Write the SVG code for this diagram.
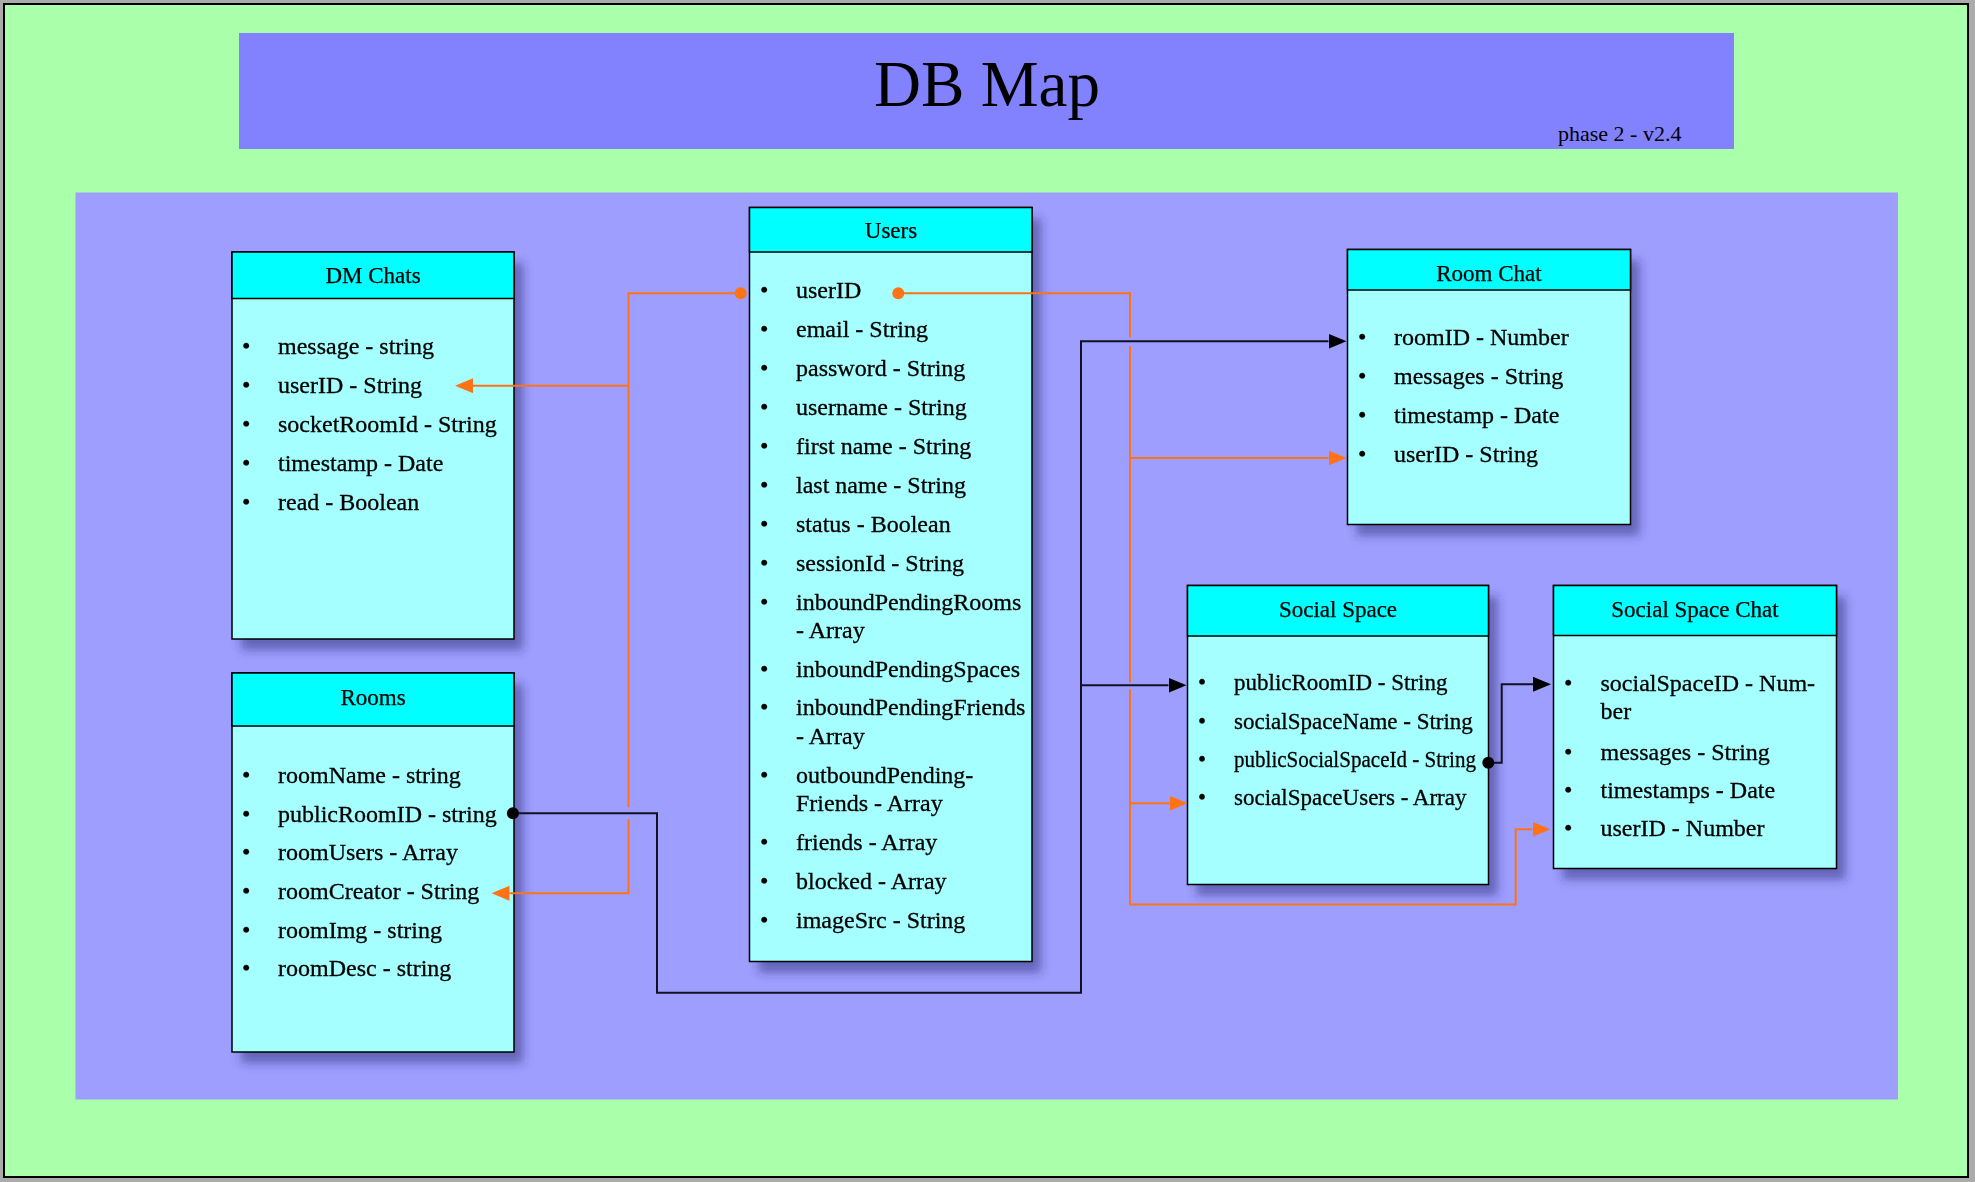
<svg xmlns="http://www.w3.org/2000/svg" width="1975" height="1182" viewBox="0 0 1975 1182">
<defs>
<style>
text{font-family:'Liberation Serif','Times New Roman',serif;fill:#000}
.frame{fill:#AAFFAA;stroke:#000;stroke-width:2}
.banner{fill:#8282FF}
.panel{fill:#9E9EFF}
.shadow{fill:#2a2a70;opacity:0.5}
.body{fill:#A6FFFF;stroke:#000;stroke-width:1.5}
.head{fill:#00FFFF;stroke:#000;stroke-width:1.5}
.or{fill:none;stroke:#FF7216;stroke-width:2}
.bk{fill:none;stroke:#111122;stroke-width:2}
.t{font-size:23px;text-anchor:middle;stroke:#000;stroke-width:0.25}
.i{font-size:24px;stroke:#000;stroke-width:0.3}
.j{font-size:23px;stroke:#000;stroke-width:0.3}
</style>
<filter id="blur" x="-10%" y="-10%" width="130%" height="130%">
<feGaussianBlur stdDeviation="5"/>
</filter>
<marker id="ao" markerUnits="userSpaceOnUse" markerWidth="20" markerHeight="16" refX="0" refY="7.5" orient="auto">
<path d="M0,0 L18,7.5 L0,15 z" fill="#FF7216"/>
</marker>
<marker id="ab" markerUnits="userSpaceOnUse" markerWidth="20" markerHeight="16" refX="0" refY="7.5" orient="auto">
<path d="M0,0 L18,7.5 L0,15 z" fill="#000"/>
</marker>
</defs>

<rect x="0" y="0" width="1975" height="1182" fill="#ABABAB"/>
<rect class="frame" x="4" y="4" width="1964" height="1173"/>
<rect class="banner" x="239" y="33" width="1495" height="116"/>
<text x="987" y="106" font-family="Liberation Serif, serif" font-size="66" text-anchor="middle" textLength="226" lengthAdjust="spacingAndGlyphs">DB Map</text>
<text x="1558" y="141" font-family="Liberation Serif, serif" font-size="22">phase 2 - v2.4</text>
<rect class="panel" x="75.5" y="192.5" width="1822.5" height="907"/>

<g id="shadows" filter="url(#blur)">
<rect class="shadow" x="241" y="263" width="282" height="387"/>
<rect class="shadow" x="241" y="684" width="282" height="379"/>
<rect class="shadow" x="758.5" y="218.5" width="282.5" height="754"/>
<rect class="shadow" x="1356.5" y="260.5" width="283" height="275"/>
<rect class="shadow" x="1196.5" y="596.5" width="301" height="299"/>
<rect class="shadow" x="1562.5" y="596.5" width="283" height="283"/>
</g>

<g id="dm-chats">
<rect class="body" x="232" y="252" width="282" height="387"/>
<rect class="head" x="232" y="252" width="282" height="46.5"/>
<text class="t" x="373" y="283">DM Chats</text>
<text class="i" x="242" y="354">•</text><text class="i" x="278" y="354">message - string</text>
<text class="i" x="242" y="393">•</text><text class="i" x="278" y="393">userID - String</text>
<text class="i" x="242" y="432">•</text><text class="i" x="278" y="432">socketRoomId - String</text>
<text class="i" x="242" y="471">•</text><text class="i" x="278" y="471">timestamp - Date</text>
<text class="i" x="242" y="510">•</text><text class="i" x="278" y="510">read - Boolean</text>
</g>

<g id="rooms">
<rect class="body" x="232" y="673" width="282" height="379"/>
<rect class="head" x="232" y="673" width="282" height="53"/>
<text class="t" x="373" y="705">Rooms</text>
<text class="i" x="242" y="783">•</text><text class="i" x="278" y="783">roomName - string</text>
<text class="i" x="242" y="822">•</text><text class="i" x="278" y="822">publicRoomID - string</text>
<text class="i" x="242" y="860">•</text><text class="i" x="278" y="860">roomUsers - Array</text>
<text class="i" x="242" y="899">•</text><text class="i" x="278" y="899">roomCreator - String</text>
<text class="i" x="242" y="938">•</text><text class="i" x="278" y="938">roomImg - string</text>
<text class="i" x="242" y="976">•</text><text class="i" x="278" y="976">roomDesc - string</text>
</g>

<g id="users">
<rect class="body" x="749.5" y="207.5" width="282.5" height="754"/>
<rect class="head" x="749.5" y="207.5" width="282.5" height="44.5"/>
<text class="t" x="891" y="238">Users</text>
<text class="i" x="760" y="298">•</text><text class="i" x="796" y="298">userID</text>
<text class="i" x="760" y="337">•</text><text class="i" x="796" y="337">email - String</text>
<text class="i" x="760" y="376">•</text><text class="i" x="796" y="376">password - String</text>
<text class="i" x="760" y="415">•</text><text class="i" x="796" y="415">username - String</text>
<text class="i" x="760" y="454">•</text><text class="i" x="796" y="454">first name - String</text>
<text class="i" x="760" y="493">•</text><text class="i" x="796" y="493">last name - String</text>
<text class="i" x="760" y="532">•</text><text class="i" x="796" y="532">status - Boolean</text>
<text class="i" x="760" y="571">•</text><text class="i" x="796" y="571">sessionId - String</text>
<text class="i" x="760" y="610">•</text><text class="i" x="796" y="610">inboundPendingRooms</text>
<text class="i" x="796" y="637.5">- Array</text>
<text class="i" x="760" y="677">•</text><text class="i" x="796" y="677">inboundPendingSpaces</text>
<text class="i" x="760" y="715">•</text><text class="i" x="796" y="715">inboundPendingFriends</text>
<text class="i" x="796" y="744">- Array</text>
<text class="i" x="760" y="783">•</text><text class="i" x="796" y="783">outboundPending-</text>
<text class="i" x="796" y="811">Friends - Array</text>
<text class="i" x="760" y="850">•</text><text class="i" x="796" y="850">friends - Array</text>
<text class="i" x="760" y="889">•</text><text class="i" x="796" y="889">blocked - Array</text>
<text class="i" x="760" y="928">•</text><text class="i" x="796" y="928">imageSrc - String</text>
</g>

<g id="room-chat">
<rect class="body" x="1347.5" y="249.5" width="283" height="275"/>
<rect class="head" x="1347.5" y="249.5" width="283" height="40.5"/>
<text class="t" x="1489" y="281">Room Chat</text>
<text class="i" x="1358" y="345">•</text><text class="i" x="1394" y="345">roomID - Number</text>
<text class="i" x="1358" y="384">•</text><text class="i" x="1394" y="384">messages - String</text>
<text class="i" x="1358" y="423">•</text><text class="i" x="1394" y="423">timestamp - Date</text>
<text class="i" x="1358" y="462">•</text><text class="i" x="1394" y="462">userID - String</text>
</g>

<g id="social-space">
<rect class="body" x="1187.5" y="585.5" width="301" height="299"/>
<rect class="head" x="1187.5" y="585.5" width="301" height="50.5"/>
<text class="t" x="1338" y="617">Social Space</text>
<text class="j" x="1198" y="690">•</text><text class="j" x="1234" y="690">publicRoomID - String</text>
<text class="j" x="1198" y="728.5">•</text><text class="j" x="1234" y="728.5">socialSpaceName - String</text>
<text class="j" x="1198" y="767">•</text><text class="i" x="1234" y="767" textLength="242" lengthAdjust="spacingAndGlyphs">publicSocialSpaceId - String</text>
<text class="j" x="1198" y="805">•</text><text class="j" x="1234" y="805">socialSpaceUsers - Array</text>
</g>

<g id="social-space-chat">
<rect class="body" x="1553.5" y="585.5" width="283" height="283"/>
<rect class="head" x="1553.5" y="585.5" width="283" height="50"/>
<text class="t" x="1695" y="617">Social Space Chat</text>
<text class="i" x="1564" y="691">•</text><text class="i" x="1600.5" y="691">socialSpaceID - Num-</text>
<text class="i" x="1600.5" y="719">ber</text>
<text class="i" x="1564" y="759.5">•</text><text class="i" x="1600.5" y="759.5">messages - String</text>
<text class="i" x="1564" y="798">•</text><text class="i" x="1600.5" y="798">timestamps - Date</text>
<text class="i" x="1564" y="836">•</text><text class="i" x="1600.5" y="836">userID - Number</text>
</g>

<g id="connectors">
<path class="bk" d="M512.9,813.3 H657 V992.7 H1081 V341.3 H1328.5" marker-end="url(#ab)"/>
<path class="bk" d="M1081,685.3 H1168.5" marker-end="url(#ab)"/>
<circle cx="512.9" cy="813.3" r="6" fill="#000"/>
<path class="bk" d="M1488.3,762.7 H1501.7 V684.3 H1533" marker-end="url(#ab)"/>
<circle cx="1488.3" cy="762.7" r="6" fill="#000"/>

<path class="or" d="M740.7,293.3 H628.5 V807.3"/>
<path class="or" d="M628.5,819.3 V893.3 H509.5" marker-end="url(#ao)"/>
<path class="or" d="M628.5,385.7 H473" marker-end="url(#ao)"/>
<circle cx="740.7" cy="293.3" r="6" fill="#FF7216"/>

<path class="or" d="M898.3,293.3 H1130 V337.3"/>
<path class="or" d="M1130,346 V682.7"/>
<path class="or" d="M1130,689.3 V904.4 H1515.7 V829.3 H1532.5" marker-end="url(#ao)"/>
<path class="or" d="M1130,458 H1328.5" marker-end="url(#ao)"/>
<path class="or" d="M1130,803.3 H1169.5" marker-end="url(#ao)"/>
<circle cx="898.3" cy="293.3" r="6" fill="#FF7216"/>
</g>
</svg>
